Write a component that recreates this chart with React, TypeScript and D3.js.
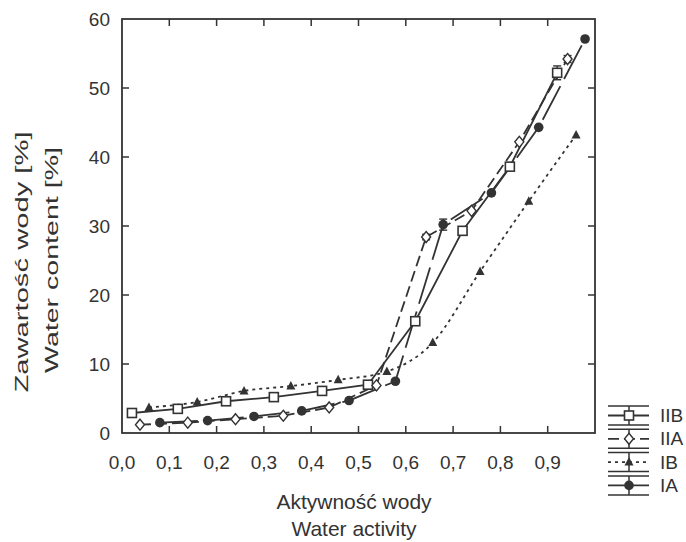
import * as d3 from "d3";

// water activity (x) and water content [%] (y)
const iibX = [0.021, 0.118, 0.22, 0.321, 0.423, 0.52, 0.62, 0.72, 0.82, 0.92];
const iibY = [2.9, 3.5, 4.6, 5.2, 6.1, 7.0, 16.2, 29.3, 38.6, 52.2];
const iibErr = [0, 0, 0, 0, 0, 0, 0, 0, 0, 1.0];

const iiaX = [0.038, 0.139, 0.24, 0.341, 0.438, 0.538, 0.643, 0.739, 0.84, 0.942];
const iiaY = [1.2, 1.5, 2.0, 2.5, 3.7, 6.9, 28.4, 32.2, 42.2, 54.2];
const iiaErr = [0, 0, 0, 0, 0, 0, 0.4, 0, 0, 0.5];

const ibX = [0.057, 0.159, 0.258, 0.357, 0.457, 0.56, 0.657, 0.757, 0.86, 0.96];
const ibY = [3.7, 4.5, 6.1, 6.8, 7.7, 8.9, 13.1, 23.4, 33.6, 43.2];
const ibErr = [0, 0, 0, 0, 0, 0, 0, 0, 0, 0];

const iaX = [0.08, 0.181, 0.279, 0.38, 0.48, 0.578, 0.679, 0.781, 0.881, 0.979];
const iaY = [1.5, 1.8, 2.4, 3.2, 4.7, 7.5, 30.2, 34.8, 44.3, 57.1];
const iaErr = [0, 0, 0, 0, 0, 0, 0.8, 0, 0, 0];

const xTicks = [0, 0.1, 0.2, 0.3, 0.4, 0.5, 0.6, 0.7, 0.8, 0.9];
const yTicks = [0, 10, 20, 30, 40, 50, 60];

const series = [
  { name: "IIB", xs: iibX, ys: iibY, err: iibErr, dash: "none", marker: "square", curve: d3.curveLinear },
  { name: "IIA", xs: iiaX, ys: iiaY, err: iiaErr, dash: "11,5", marker: "diamond", curve: d3.curveLinear },
  { name: "IB", xs: ibX, ys: ibY, err: ibErr, dash: "3,4", marker: "triangle", curve: d3.curveMonotoneX },
  { name: "IA", xs: iaX, ys: iaY, err: iaErr, dash: "38,8", marker: "circle", curve: d3.curveLinear },
];

const ink = "#333";
const font = "'Liberation Sans', Arial, Helvetica, sans-serif";

function Marker({ type, cx, cy }: { type: string; cx: number; cy: number }) {
  if (type === "square")
    return <rect x={cx - 4.5} y={cy - 4.5} width={9} height={9} fill="white" stroke={ink} strokeWidth={1.6} />;
  if (type === "diamond")
    return (
      <path d={`M${cx},${cy - 5.5}L${cx + 4.5},${cy}L${cx},${cy + 5.5}L${cx - 4.5},${cy}Z`}
        fill="white" stroke={ink} strokeWidth={1.4} />
    );
  if (type === "triangle")
    return <path d={`M${cx},${cy - 5}L${cx + 4.5},${cy + 3.5}L${cx - 4.5},${cy + 3.5}Z`} fill={ink} />;
  return <circle cx={cx} cy={cy} r={4.8} fill={ink} />;
}

export default function App() {
  const width = 686;
  const height = 542;
  const left = 122, right = 595, top = 19, bottom = 433;

  const x = d3.scaleLinear().domain([0, 1]).range([left, right]);
  const y = d3.scaleLinear().domain([0, 60]).range([bottom, top]);

  const tickLen = 7;
  const legendX1 = 608, legendX2 = 649, legendMid = 629;
  const legendY0 = 415.5, legendStep = 23.3;

  return (
    <svg width={width} height={height} style={{ position: "absolute", left: 0, top: 0, background: "white" }}
      fontFamily={font}>
      {/* series lines */}
      {series.map((s) => {
        const line = d3.line<number>().x((d, i) => x(s.xs[i])).y((d) => y(d)).curve(s.curve);
        return (
          <path key={s.name} d={line(s.ys) ?? ""} fill="none" stroke={ink} strokeWidth={1.8}
            strokeDasharray={s.dash} />
        );
      })}

      {/* error bars */}
      {series.map((s) =>
        s.ys.map((v, i) =>
          s.err[i] > 0 ? (
            <g key={s.name + "e" + i} stroke={ink} strokeWidth={1.4}>
              <line x1={x(s.xs[i])} x2={x(s.xs[i])} y1={y(v - s.err[i])} y2={y(v + s.err[i])} />
              <line x1={x(s.xs[i]) - 4} x2={x(s.xs[i]) + 4} y1={y(v + s.err[i])} y2={y(v + s.err[i])} />
              <line x1={x(s.xs[i]) - 4} x2={x(s.xs[i]) + 4} y1={y(v - s.err[i])} y2={y(v - s.err[i])} />
            </g>
          ) : null
        )
      )}

      {/* markers */}
      {series.map((s) =>
        s.ys.map((v, i) => <Marker key={s.name + i} type={s.marker} cx={x(s.xs[i])} cy={y(v)} />)
      )}

      {/* frame and ticks */}
      <rect x={left} y={top} width={right - left} height={bottom - top} fill="none" stroke={ink} strokeWidth={1.8} />
      <g stroke={ink} strokeWidth={1.5}>
        {xTicks.slice(1).map((t) => (
          <g key={"xt" + t}>
            <line x1={x(t)} x2={x(t)} y1={bottom} y2={bottom - tickLen} />
            <line x1={x(t)} x2={x(t)} y1={top} y2={top + tickLen} />
          </g>
        ))}
        {yTicks.slice(1, -1).map((t) => (
          <g key={"yt" + t}>
            <line x1={left} x2={left + tickLen} y1={y(t)} y2={y(t)} />
            <line x1={right} x2={right - tickLen} y1={y(t)} y2={y(t)} />
          </g>
        ))}
      </g>

      {/* tick labels */}
      <g fill={ink} fontSize={19}>
        {xTicks.map((t) => (
          <text key={"xl" + t} x={x(t)} y={469} textAnchor="middle">
            {t.toFixed(1).replace(".", ",")}
          </text>
        ))}
        {yTicks.map((t) => (
          <text key={"yl" + t} x={110} y={y(t)} textAnchor="end" dominantBaseline="central">
            {t}
          </text>
        ))}
      </g>

      {/* axis titles */}
      <g fill={ink} fontSize={21}>
        <text x={354} y={509} textAnchor="middle">Aktywność wody</text>
        <text x={354} y={536} textAnchor="middle">Water activity</text>
      </g>
      <g fill={ink} fontSize={18.5}>
        <text transform="translate(28,262) rotate(-90)" textAnchor="middle" textLength={261}
          lengthAdjust="spacingAndGlyphs">Zawartość wody [%]</text>
        <text transform="translate(58,260) rotate(-90)" textAnchor="middle" textLength={226}
          lengthAdjust="spacingAndGlyphs">Water content [%]</text>
      </g>

      {/* legend */}
      {series.map((s, i) => {
        const cy = legendY0 + i * legendStep;
        return (
          <g key={"lg" + s.name}>
            <g stroke={ink} strokeWidth={1.5}>
              <line x1={legendX1} x2={legendX2} y1={cy - 9.5} y2={cy - 9.5} />
              <line x1={legendX1} x2={legendX2} y1={cy + 9.5} y2={cy + 9.5} />
              <line x1={legendMid} x2={legendMid} y1={cy - 9.5} y2={cy + 9.5} />
              <line x1={legendX1} x2={legendX2} y1={cy} y2={cy} strokeDasharray={s.dash === "38,8" ? "none" : s.dash} strokeWidth={1.8} />
            </g>
            <Marker type={s.marker} cx={legendMid} cy={cy} />
            <text x={660} y={cy} dominantBaseline="central" fontSize={19} fill={ink}>{s.name}</text>
          </g>
        );
      })}
    </svg>
  );
}
